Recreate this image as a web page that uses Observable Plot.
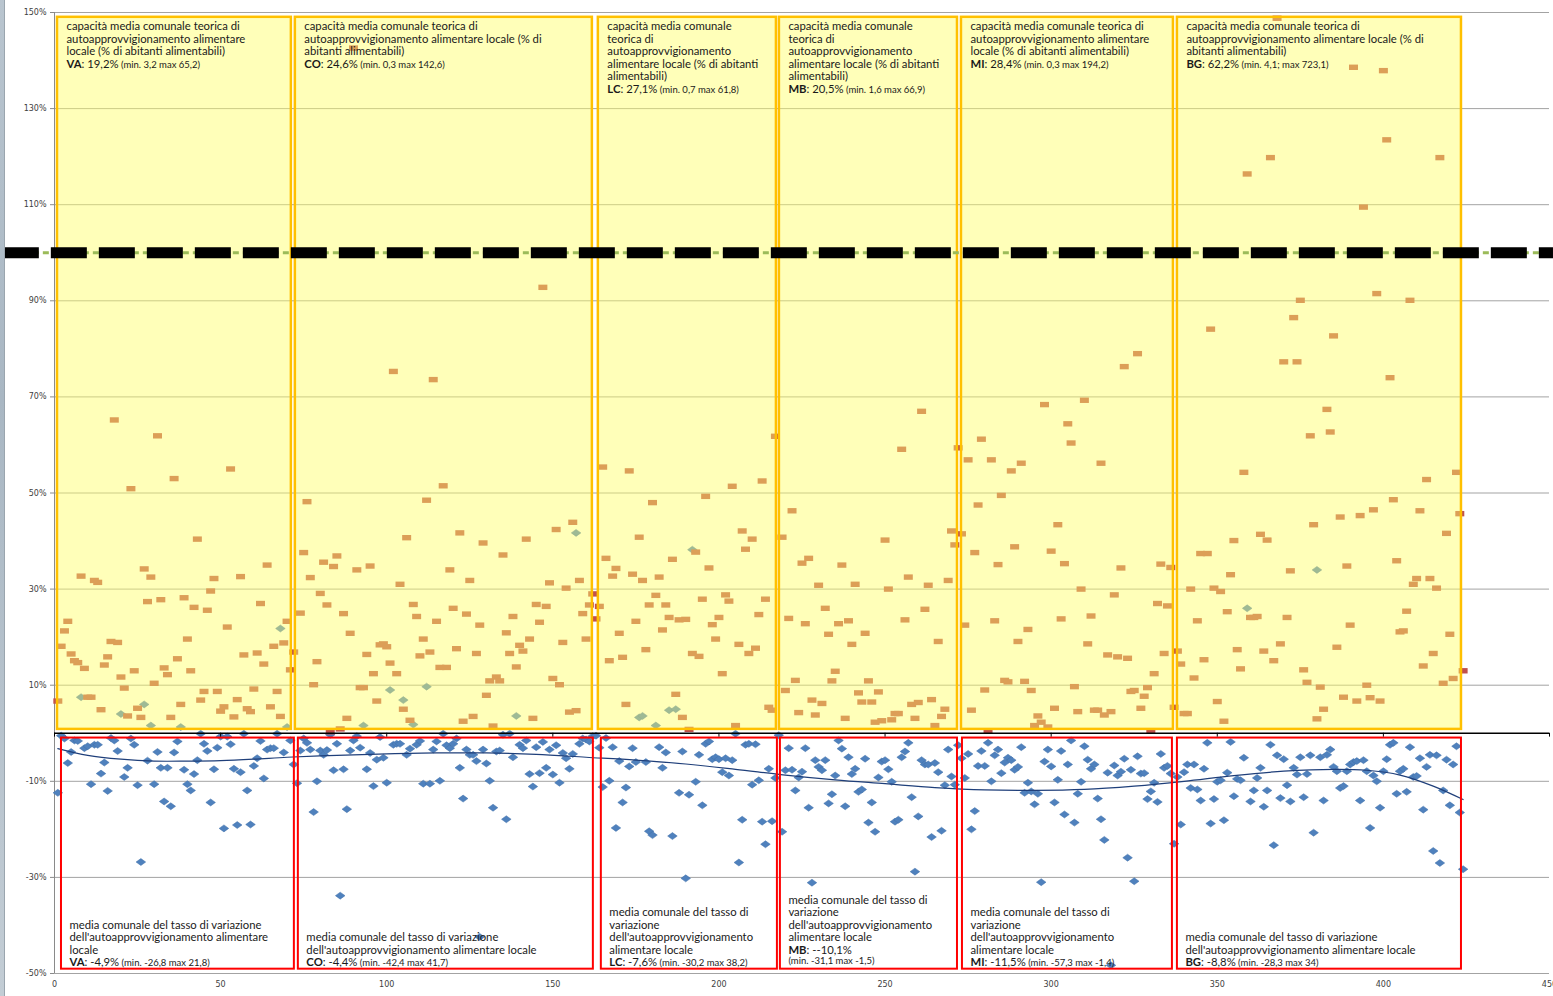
<!DOCTYPE html>
<html><head><meta charset="utf-8">
<script src="https://cdn.jsdelivr.net/npm/d3@7"></script>
<script src="https://cdn.jsdelivr.net/npm/@observablehq/plot@0.6"></script>
<style>
html,body{margin:0;padding:0;background:#fff;}
#wrap{position:relative;width:1553px;height:996px;overflow:hidden;}
#strip{position:absolute;left:0;top:0;width:4px;height:996px;background:linear-gradient(#b9c5cf,#a9b7c3 40%,#c3cdd5);z-index:2;border-right:1px solid #9aa5ae;}
</style></head><body><div id="wrap"><div id="strip"></div></div>
<script>
// ---- categories ----
const provinces = ["VA", "CO", "LC", "MB", "MI", "BG"];
// first comune index of each province in the two series
const capStart = [1, 74, 164, 219, 273, 338];
const chgStart = [1, 73, 163, 218, 272, 338];
// comune index ranges covered by the annotation boxes
const capBoxFrom = [0.9, 72.5, 163.7, 218.2, 273.0, 338.0];
const capBoxTo   = [71.3, 161.9, 217.3, 271.8, 336.8, 423.5];
const chgBoxFrom = [2.1, 73.4, 164.6, 218.5, 273.3, 338.0];
const chgBoxTo   = [72.2, 162.2, 217.6, 271.8, 336.5, 423.5];
const capBoxRange = [0.8, 149];
const chgBoxRange = [-1, -49.1];
const refLine = 100;
const refLineFrom = -15.4, refLineTo = 451.2;

// ---- series: capacità teorica di autoapprovvigionamento (%) ----
const capVA = [6.7,18.1,21.3,23.3,16.5,15.1,14.7,32.7,13.5,7.5,7.5,31.8,31.4,4.9,14.2,15.9,19.1,65.2,18.9,11.7,9.4,3.6,50.9,13.0,5.2,3.3,34.2,27.4,32.5,10.4,61.9,27.8,13.6,12.2,3.3,53.0,15.5,6.0,28.2,19.6,13.0,26.2,40.4,6.9,8.7,25.6,29.6,32.2,8.7,4.6,5.5,22.1,55.0,3.4,7.0,32.6,16.3,5.1,4.5,9.2,16.7,27.0,14.4,35.0,5.5,18.1,8.7,3.5,18.8,23.3,13.2,16.9];
const capCO = [25.0,37.6,48.2,32.4,10.1,14.9,29.1,35.6,26.7,0.3,34.7,36.9,0.9,24.9,3.1,20.8,142.6,34.0,9.5,9.5,16.4,34.8,12.4,6.7,18.4,18.6,18.0,14.6,75.3,12.4,31.0,5.0,40.7,2.7,26.8,24.3,16.1,19.6,48.5,16.9,73.6,23.3,13.7,51.5,13.7,34.0,26.0,17.6,41.7,2.5,24.8,31.8,3.5,16.6,22.5,39.6,7.9,10.9,1.5,11.7,10.9,37.1,20.9,16.6,24.3,13.8,18.3,17.1,40.4,19.6,3.1,26.8,23.1,92.8,26.4,31.3,11.4,42.4,10.1,18.9,30.2,4.4,43.9,4.7,31.8,24.9,19.6,26.7,29.0,23.8];
const capLC = [26.4,55.4,36.4,15.1,32.7,34.3,20.8,15.8,6.0,54.6,33.1,23.3,40.8,31.8,17.4,26.7,48.0,28.7,32.5,21.5,26.7,24.1,36.2,8.1,23.6,3.3,23.7,0.8,16.6,37.7,16.0,27.9,49.3,34.4,22.6,19.6,24.1,12.4,28.8,27.5,51.4,1.6,18.5,42.1,38.3,16.6,40.4,17.7,24.7,52.5,27.9,5.4,4.8,61.8];
const capMB = [40.8,8.9,23.9,46.3,11.0,4.3,35.4,22.8,36.4,6.9,3.8,30.8,6.2,26.0,20.6,10.9,12.9,22.8,35.0,3.1,23.4,18.5,31.0,8.4,6.5,20.8,10.9,6.5,2.3,8.6,2.6,40.2,30.0,2.8,4.1,4.1,59.1,23.6,32.5,6.0,3.1,6.4,67.0,25.8,30.8,7.0,1.6,19.1,3.5,5.0,31.8,42.1,39.2,59.4];
const capMI = [41.5,22.5,56.9,4.8,37.6,47.5,61.2,9.0,0.5,56.9,23.4,35.1,49.5,11.0,10.7,54.6,38.8,19.1,56.2,10.8,21.6,8.9,1.6,3.6,2.3,68.4,1.3,37.9,5.2,43.4,23.8,35.3,64.4,60.4,9.7,4.5,30.0,69.3,18.6,24.4,4.8,4.8,56.2,3.8,16.3,4.5,28.8,15.9,34.4,76.3,15.6,8.7,8.9,79.0,5.2,7.7,9.5,0.5,12.4,27.0,35.2,16.6,26.5,34.5,5.4];
const capBG = [17.1,14.4,4.1,4.1,30.0,11.5,23.4,37.4,15.3,37.4,84.1,30.2,6.6,29.5,2.5,25.3,33.0,40.1,17.4,13.4,54.3,116.4,24.1,24.1,24.3,41.4,17.1,40.2,119.8,15.1,148.8,18.6,77.3,24.1,33.8,86.5,77.3,90.1,13.2,10.6,61.9,43.4,3.0,9.6,5.0,67.4,62.7,82.7,17.9,45.0,7.5,34.8,22.5,138.6,6.7,45.3,109.5,10.0,7.4,46.5,91.5,6.7,137.9,123.5,74.0,48.6,35.9,21.1,21.3,25.4,90.1,31.0,32.2,46.3,14.0,52.8,32.2,16.6,30.2,119.8,10.4,41.6,20.6,11.4,54.3,45.7,13.0];

// ---- series: tasso di variazione dell'autoapprovvigionamento (%) ----
const chgVA = [-12.4,-0.5,-1.1,-6.2,-3.9,-1.5,-1.6,7.5,-3.1,-2.7,-10.6,-2.4,-2.4,-8.4,-6.1,-12.0,-1.0,-1.5,-3.7,4.0,-9.1,-7.2,-1.1,-2.4,-10.8,-26.8,6.0,-5.7,1.6,-10.6,-3.9,-7.2,-14.2,-7.2,-15.2,-4.0,-1.7,1.3,-7.6,-10.6,-11.9,-8.5,-5.6,-0.1,-2.2,-3.7,-14.4,-7.5,-3.0,-0.7,-19.8,-0.7,-2.3,-7.4,-19.1,-8.1,-0.1,-11.9,-19.0,-6.8,-5.2,-1.6,-9.4,-3.4,-3.1,-3.1,-0.1,21.8,-4.0,1.3,-1.5,-6.5];
const chgCO = [-10.4,-3.6,-1.1,-2.0,-3.4,-16.4,-10.0,-3.6,-4.5,-3.5,-0.3,-7.7,-2.2,-33.8,-7.5,-15.8,-3.6,-1.5,-0.6,-3.0,1.6,-7.5,-4.1,-11.0,-5.5,-0.8,-5.1,-10.3,9.0,-2.4,-2.2,-2.2,6.9,-4.5,-3.2,1.8,-2.4,-1.6,-10.5,9.7,-10.5,-3.4,-1.7,-9.9,-0.1,-2.5,-3.1,-2.2,-1.1,-7.2,-13.6,-3.4,-4.5,-4.5,-5.8,-42.4,-3.4,-6.3,-9.9,-15.5,-3.8,-3.6,-0.3,-17.9,-0.1,-5.0,3.6,-2.4,-3.1,-1.5,-8.5,-11.1,-2.9,-8.3,-1.8,-7.2,-3.4,-8.6,-2.5,-10.3,-4.1,-5.2,-7.4,-4.3,41.7,-2.2,-1.1,-1.3,-1.7,-0.6];
const chgLC = [-0.5,-3.0,-11.2,-1.0,-9.9,-2.9,-19.7,-5.8,-14.4,-11.3,-6.9,-3.1,-6.0,3.3,3.6,-6.0,-20.4,-21.2,1.6,-2.9,-7.2,-4.0,4.8,-21.4,5.0,-12.4,-3.8,-30.2,-12.8,38.2,-10.1,-4.5,-15.0,-2.2,-1.7,-5.4,-5.0,-5.4,-8.1,-5.2,-8.8,-5.6,-0.1,-26.9,-18.0,-2.4,-2.2,-10.7,-2.3,-9.8,-18.4,-23.1,-7.4,-18.3,-9.3];
const chgMB = [-0.4,-20.5,-7.7,-3.1,-7.6,-11.9,-9.2,-8.0,-3.1,-15.5,-31.1,-5.6,-7.0,-7.7,-5.6,-14.6,-12.7,-8.8,-1.5,-3.2,-15.2,-5.0,-8.5,-7.4,-12.2,-11.7,-5.3,-18.6,-14.4,-20.5,-9.2,-5.9,-5.6,-7.5,-10.1,-18.4,-18.0,-5.0,-3.8,-2.0,-13.3,-28.8,-17.3,-5.6,-6.5,-6.5,-21.6,-6.2,-8.1,-20.3,-10.8,-3.4,-9.0,-10.7];
const chgMI = [-2.5,-5.2,-9.3,-4.3,-20.0,-16.2,-6.8,-3.7,-6.8,-2.0,-10.0,-4.6,-3.4,-8.3,-6.1,-5.1,-5.6,-7.6,-7.0,-2.9,-12.4,-10.3,-12.1,-14.8,-12.6,-31.0,-5.9,-3.4,-6.9,-14.4,-9.7,-3.7,-16.9,-6.5,-1.5,-18.6,-12.6,-10.1,-2.7,-5.5,-7.4,-6.5,-13.6,-17.9,-22.2,-8.2,-48.3,-6.7,-8.8,-8.0,-5.3,-25.9,-7.6,-30.8,-4.8,-8.4,-8.3,-13.7,-12.1,-10.3,-14.3,-4.3,-7.2,-6.8,-8.4,-23.0];
const chgBG = [-9.1,-19.0,-8.1,-6.5,-11.4,-6.5,-11.7,-14.0,-7.4,-2.0,-18.8,-13.7,-10.1,-9.8,-18.1,-8.2,-1.8,-13.1,-9.5,-9.8,-5.1,26.0,-14.2,-11.9,-9.3,-7.2,-15.3,-11.9,-2.4,-23.3,-4.6,-13.5,-5.4,-10.8,-14.2,-7.2,-8.6,-5.0,-13.3,-8.5,-4.6,-20.7,34.0,-5.0,-14.0,-4.5,-3.4,-7.0,-7.9,-11.4,-11.0,-7.9,-6.5,-6.0,-5.8,-14.0,-5.6,-7.9,-19.7,-8.8,-10.0,-15.5,-7.9,-5.4,-2.4,-2.0,-12.6,-7.9,-7.4,-12.2,-2.9,-9.1,-8.9,-5.2,-15.9,-7.0,-4.5,-24.5,-4.6,-27.0,-11.9,-5.5,-15.0,-6.5,-2.7,-16.5,-28.3];

// polynomial trend line of the variation rate
const trendX = [1,10,20,30,40,50,60,70,85,100,115,130,145,160,175,190,205,220,235,250,265,280,295,310,325,340,355,370,385,395,405,415,424];
const trendY = [-3.2,-4.6,-5.4,-5.8,-5.8,-5.7,-5.4,-5.0,-4.6,-4.3,-4.1,-4.1,-4.4,-5.0,-5.6,-6.4,-7.5,-8.7,-9.7,-10.5,-11.3,-11.8,-11.9,-11.7,-11.0,-10.0,-8.8,-7.9,-7.5,-7.7,-8.7,-11.0,-13.8];

// ---- ticks ----
const xTicks = [0,50,100,150,200,250,300,350,400,450];
const yTicks = [-50,-30,-10,10,30,50,70,90,110,130,150];

// ---- texts ----
const capLabels = [
  ["capacità media comunale teorica di","autoapprovvigionamento alimentare","locale (% di abitanti alimentabili)","VA: 19,2% (min. 3,2 max 65,2)"],
  ["capacità media comunale teorica di","autoapprovvigionamento alimentare locale (% di","abitanti alimentabili)","CO: 24,6% (min. 0,3 max 142,6)"],
  ["capacità media comunale","teorica di","autoapprovvigionamento","alimentare locale (% di abitanti","alimentabili)","LC: 27,1% (min. 0,7 max 61,8)"],
  ["capacità media comunale","teorica di","autoapprovvigionamento","alimentare locale (% di abitanti","alimentabili)","MB: 20,5% (min. 1,6 max 66,9)"],
  ["capacità media comunale teorica di","autoapprovvigionamento alimentare","locale (% di abitanti alimentabili)","MI: 28,4% (min. 0,3 max 194,2)"],
  ["capacità media comunale teorica di","autoapprovvigionamento alimentare locale (% di","abitanti alimentabili)","BG: 62,2% (min. 4,1; max 723,1)"]
];
const chgLabels = [
  ["media comunale del tasso di variazione","dell'autoapprovvigionamento alimentare","locale","VA: -4,9% (min. -26,8 max 21,8)"],
  ["media comunale del tasso di variazione","dell'autoapprovvigionamento alimentare locale","CO: -4,4% (min. -42,4 max 41,7)"],
  ["media comunale del tasso di","variazione","dell'autoapprovvigionamento","alimentare locale","LC: -7,6% (min. -30,2 max 38,2)"],
  ["media comunale del tasso di","variazione","dell'autoapprovvigionamento","alimentare locale","MB: --10,1%","(min. -31,1 max -1,5)"],
  ["media comunale del tasso di","variazione","dell'autoapprovvigionamento","alimentare locale","MI: -11,5% (min. -57,3 max -1,4)"],
  ["media comunale del tasso di variazione","dell'autoapprovvigionamento alimentare locale","BG: -8,8% (min. -28,3 max 34)"]
];

// ---- build tables ----
const capSeries = [capVA, capCO, capLC, capMB, capMI, capBG];
const chgSeries = [chgVA, chgCO, chgLC, chgMB, chgMI, chgBG];
const capData = capSeries.flatMap((arr, k) => arr.map((v, i) => ({x: capStart[k] + i, y: v, p: provinces[k]})));
const chgData = chgSeries.flatMap((arr, k) => arr.map((v, i) => ({x: chgStart[k] + i, y: v, p: provinces[k]})));
const trend = trendX.map((x, i) => ({x, y: trendY[i]}));
const boxes = provinces.map((p, k) => ({
  p, cx1: capBoxFrom[k], cx2: capBoxTo[k], vx1: chgBoxFrom[k], vx2: chgBoxTo[k],
  capText: capLabels[k].join("\n"), chgText: chgLabels[k].join("\n")
}));

const wideSquare = {draw(ctx) { ctx.rect(-4.5, -2.7, 9, 5.4); }};
const wideDiamond = {draw(ctx) { ctx.moveTo(0, -3.5); ctx.lineTo(4.8, 0); ctx.lineTo(0, 3.5); ctx.lineTo(-4.8, 0); ctx.closePath(); }};

const FS = 11.3;           // box text size
const LH = 12.5 / FS;      // line height in em

const svg = Plot.plot({
  width: 1553, height: 996,
  marginLeft: 54, marginRight: 4, marginTop: 12, marginBottom: 23,
  style: {background: "transparent", fontFamily: "Lato"},
  x: {domain: [0, 450], label: null},
  y: {domain: [-50, 150], label: null},
  marks: [
    Plot.gridY(yTicks, {stroke: "#a3a3a3", strokeOpacity: 1, strokeWidth: 1}),
    Plot.ruleX([0], {stroke: "#8a8a8a"}),
    Plot.dot(chgData, {x: "x", y: "y", symbol: wideDiamond, fill: "#4F81BD", stroke: "#3f6fa8", strokeWidth: 0.5, r: 4}),
    Plot.dot(capData, {x: "x", y: "y", symbol: wideSquare, fill: "#C0504D", r: 4}),
    Plot.line(trend, {x: "x", y: "y", stroke: "#1F3F7A", strokeWidth: 1.2, curve: "catmull-rom"}),
    Plot.rect(boxes, {x1: "cx1", x2: "cx2", y1: capBoxRange[0], y2: capBoxRange[1], fill: "rgb(255,255,100)", fillOpacity: 0.45, stroke: "#FFC000", strokeWidth: 2.5}),
    Plot.rect(boxes, {x1: "vx1", x2: "vx2", y1: chgBoxRange[0], y2: chgBoxRange[1], fill: "none", stroke: "#FF0000", strokeWidth: 2}),
    Plot.ruleY([0], {stroke: "#000", strokeWidth: 1.6}),
    Plot.ruleX(xTicks, {y1: 0, y2: -0.8, stroke: "#000"}),
    Plot.ruleY([refLine], {x1: refLineFrom, x2: refLineTo, stroke: "#9BBB59", strokeWidth: 3, strokeDasharray: "6,4"}),
    Plot.ruleY([refLine], {x1: refLineFrom, x2: refLineTo, stroke: "#000", strokeWidth: 11, strokeDasharray: "36,12"}),
    Plot.text(boxes, {x: "cx1", y: capBoxRange[1], text: "capText", textAnchor: "start", lineAnchor: "top", dx: 9, dy: 4, fontSize: FS, lineHeight: LH, fill: "#1a1a1a", fontFamily: "Lato"}),
    Plot.text(boxes, {x: "vx1", y: chgBoxRange[1], text: "chgText", textAnchor: "start", lineAnchor: "bottom", dx: 8, dy: -3, fontSize: FS, lineHeight: LH, fill: "#1a1a1a", fontFamily: "Lato"}),
    Plot.axisY(yTicks, {tickFormat: d => d + "%", tickSize: 4, tickPadding: 4, fontSize: 8, fontFamily: "DejaVu Sans", fill: "#404040", stroke: "#8a8a8a", label: null}),
    Plot.axisX(xTicks, {tickSize: 0, tickPadding: 8, fontSize: 8, fontFamily: "DejaVu Sans", fill: "#404040", label: null})
  ]
});

// bold province codes and smaller min/max parts
const NS = "http://www.w3.org/2000/svg";
svg.querySelectorAll("tspan").forEach(t => {
  const s = t.textContent;
  const m = s.match(/^(VA|CO|LC|MB|MI|BG)(:[^(]*?)(\s*\(.*\))?$/);
  if (m) {
    t.textContent = "";
    const b = document.createElementNS(NS, "tspan"); b.setAttribute("font-weight", "bold"); b.textContent = m[1]; t.appendChild(b);
    const r = document.createElementNS(NS, "tspan"); r.textContent = m[2]; t.appendChild(r);
    if (m[3]) { const sm = document.createElementNS(NS, "tspan"); sm.setAttribute("font-size", "9.5"); sm.textContent = m[3]; t.appendChild(sm); }
  } else if (/^\(min/.test(s)) {
    t.setAttribute("font-size", "9.5");
  }
});
document.getElementById("wrap").appendChild(svg);
</script></body></html>
